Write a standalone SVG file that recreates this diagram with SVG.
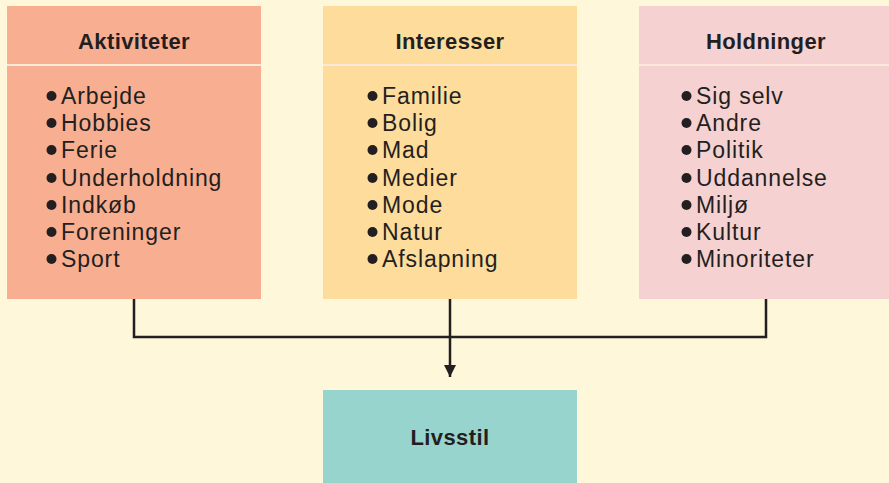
<svg xmlns="http://www.w3.org/2000/svg" width="889" height="483" viewBox="0 0 889 483">
<defs>
<style>
.title{font-family:"Liberation Sans",Arial,sans-serif;font-weight:bold;font-size:22px;letter-spacing:0.4px;fill:#231f20;text-anchor:middle}
.item{font-family:"Liberation Sans",Arial,sans-serif;font-size:23px;letter-spacing:0.9px;fill:#231f20}
.div{stroke:#fde8dc;stroke-width:2}
.conn{fill:none;stroke:#231f20;stroke-width:2.5}
</style>
<marker id="arr" markerWidth="12" markerHeight="12" viewBox="0 0 12 12" refX="12" refY="6" orient="auto" markerUnits="userSpaceOnUse">
<path d="M0,0 L12,6 L0,12 Z" fill="#231f20"/>
</marker>
</defs>
<rect width="889" height="483" fill="#fef7d9"/>
<g id="aktiviteter">
<rect x="7" y="6" width="254" height="293" fill="#f8ae91"/>
<line class="div" x1="7" y1="65" x2="261" y2="65"/>
<text class="title" x="134" y="49">Aktiviteter</text>
<g fill="#231f20"><circle cx="51.5" cy="96" r="5"/><circle cx="51.5" cy="123" r="5"/><circle cx="51.5" cy="150" r="5"/><circle cx="51.5" cy="178" r="5"/><circle cx="51.5" cy="205" r="5"/><circle cx="51.5" cy="232" r="5"/><circle cx="51.5" cy="259" r="5"/></g>
<text class="item" x="61" y="104">Arbejde</text>
<text class="item" x="61" y="131">Hobbies</text>
<text class="item" x="61" y="158">Ferie</text>
<text class="item" x="61" y="186">Underholdning</text>
<text class="item" x="61" y="213">Indkøb</text>
<text class="item" x="61" y="240">Foreninger</text>
<text class="item" x="61" y="267">Sport</text>
</g>
<g id="interesser">
<rect x="323" y="6" width="254" height="293" fill="#fedc9c"/>
<line class="div" x1="323" y1="65" x2="577" y2="65"/>
<text class="title" x="450" y="49">Interesser</text>
<g fill="#231f20"><circle cx="372.5" cy="96" r="5"/><circle cx="372.5" cy="123" r="5"/><circle cx="372.5" cy="150" r="5"/><circle cx="372.5" cy="178" r="5"/><circle cx="372.5" cy="205" r="5"/><circle cx="372.5" cy="232" r="5"/><circle cx="372.5" cy="259" r="5"/></g>
<text class="item" x="382" y="104">Familie</text>
<text class="item" x="382" y="131">Bolig</text>
<text class="item" x="382" y="158">Mad</text>
<text class="item" x="382" y="186">Medier</text>
<text class="item" x="382" y="213">Mode</text>
<text class="item" x="382" y="240">Natur</text>
<text class="item" x="382" y="267">Afslapning</text>
</g>
<g id="holdninger">
<rect x="639" y="6" width="250" height="293" fill="#f6d1d1"/>
<line class="div" x1="639" y1="65" x2="889" y2="65"/>
<text class="title" x="766" y="49">Holdninger</text>
<g fill="#231f20"><circle cx="686.5" cy="96" r="5"/><circle cx="686.5" cy="123" r="5"/><circle cx="686.5" cy="150" r="5"/><circle cx="686.5" cy="178" r="5"/><circle cx="686.5" cy="205" r="5"/><circle cx="686.5" cy="232" r="5"/><circle cx="686.5" cy="259" r="5"/></g>
<text class="item" x="696" y="104">Sig selv</text>
<text class="item" x="696" y="131">Andre</text>
<text class="item" x="696" y="158">Politik</text>
<text class="item" x="696" y="186">Uddannelse</text>
<text class="item" x="696" y="213">Miljø</text>
<text class="item" x="696" y="240">Kultur</text>
<text class="item" x="696" y="267">Minoriteter</text>
</g>
<g id="livsstil">
<rect x="323" y="390" width="254" height="93" fill="#97d4cd"/>
<text class="title" x="450" y="445">Livsstil</text>
</g>
<g id="connectors">
<path class="conn" d="M134,299 V337 H766 V299"/>
<path class="conn" d="M450,299 V377" marker-end="url(#arr)"/>
</g>
</svg>
